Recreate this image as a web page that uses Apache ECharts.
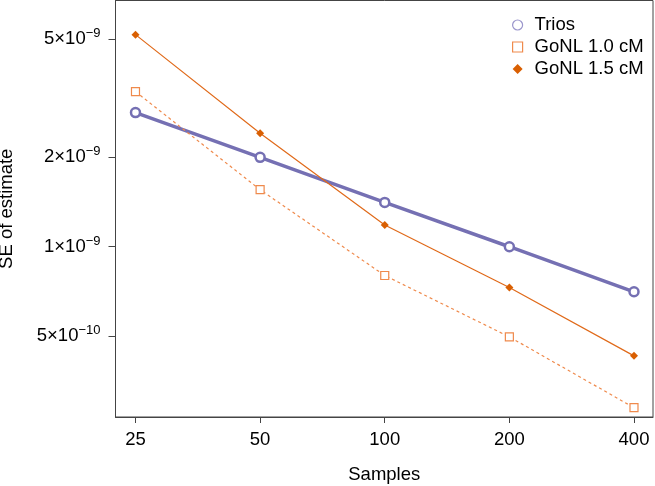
<!DOCTYPE html>
<html><head><meta charset="utf-8">
<script src="https://cdn.jsdelivr.net/npm/echarts@6/dist/echarts.min.js"></script>
<style>html,body{margin:0;padding:0;background:#fff}#c{width:655px;height:486px}</style>
</head><body><div id="c"></div>
<script>
const samples = [25, 50, 100, 200, 400];
const trios = [2.83e-9, 2.0e-9, 1.41e-9, 1.0e-9, 0.705e-9];
const gonl10 = [3.33e-9, 1.556e-9, 0.80e-9, 0.497e-9, 0.287e-9];
const gonl15 = [5.18e-9, 2.41e-9, 1.183e-9, 0.729e-9, 0.429e-9];
const xTicks = [25, 50, 100, 200, 400];
const yTicks = [5e-10, 1e-9, 2e-9, 5e-9];
const yTickMant = ['5', '1', '2', '5'];
const yTickExp = ['−10', '−9', '−9', '−9'];

const FONT = 'Liberation Sans, Arial, Helvetica, sans-serif';
const FS = 18.5;
const pairs = arr => samples.map((s, i) => [s, arr[i]]);
const chart = echarts.init(document.getElementById('c'));
chart.setOption({
  animation: false,
  textStyle: {fontFamily: FONT},
  grid: {left: 115.5, right: 2, top: 0.5, bottom: 69, show: true, borderColor: '#444', borderWidth: 1,
         backgroundColor: 'transparent', outerBoundsMode: 'none', containLabel: false},
  legend: {
    orient: 'vertical', left: 507, top: 9, itemGap: 0, itemWidth: 10, itemHeight: 10,
    textStyle: {fontSize: FS, lineHeight: 22, color: '#000', fontFamily: FONT, padding: [0, 0, 0, 7]},
    data: [
      {name: 'Trios', icon: 'circle', itemStyle: {color: '#fff', borderColor: '#9b96cc', borderWidth: 1.2}},
      {name: 'GoNL 1.0 cM', icon: 'rect', itemStyle: {color: '#fff', borderColor: '#ef8a4c', borderWidth: 1.2}},
      {name: 'GoNL 1.5 cM', icon: 'diamond', itemStyle: {color: '#d95f02'}}
    ]
  },
  xAxis: {
    type: 'log', logBase: 2, min: 22.37, max: 444.6,
    name: 'Samples', nameLocation: 'middle', nameGap: 48,
    nameTextStyle: {fontSize: FS, color: '#000', fontFamily: FONT},
    axisLine: {show: true, lineStyle: {color: '#444'}},
    axisTick: {show: true, length: 6, lineStyle: {color: '#444'}, customValues: xTicks},
    axisLabel: {fontSize: FS, color: '#000', margin: 13, customValues: xTicks, fontFamily: FONT},
    splitLine: {show: false}, minorTick: {show: false}
  },
  yAxis: {
    type: 'log', min: 2.67e-10, max: 6.75e-9,
    name: 'SE of estimate', nameLocation: 'middle', nameGap: 99,
    nameTextStyle: {fontSize: FS, color: '#000', fontFamily: FONT},
    axisLine: {show: true, lineStyle: {color: '#444'}},
    axisTick: {show: true, length: 7, lineStyle: {color: '#444'}, customValues: yTicks},
    axisLabel: {
      margin: 15, customValues: yTicks, color: '#000',
      formatter: v => {
        let idx = 0, best = Infinity;
        yTicks.forEach((t, i) => { const d = Math.abs(Math.log(t) - Math.log(v)); if (d < best) { best = d; idx = i; } });
        return '{m|' + yTickMant[idx] + '×10}{e|' + yTickExp[idx] + '}';
      },
      rich: {
        m: {fontSize: FS, lineHeight: 24, color: '#000', fontFamily: FONT},
        e: {fontSize: 13, lineHeight: 13, verticalAlign: 'top', color: '#000', fontFamily: FONT}
      }
    },
    splitLine: {show: false}, minorTick: {show: false}
  },
  series: [
    {name: 'Trios', type: 'line', data: pairs(trios), symbol: 'circle', symbolSize: 9,
     lineStyle: {color: '#7570b3', width: 3.5}, itemStyle: {color: '#fff', borderColor: '#7570b3', borderWidth: 2.5}, z: 3},
    {name: 'GoNL 1.0 cM', type: 'line', data: pairs(gonl10), symbol: 'rect', symbolSize: 8,
     lineStyle: {color: '#ef8a4c', width: 1.2, type: [3, 3]}, itemStyle: {color: '#fff', borderColor: '#ef8a4c', borderWidth: 1.2}},
    {name: 'GoNL 1.5 cM', type: 'line', data: pairs(gonl15), symbol: 'diamond', symbolSize: 8,
     lineStyle: {color: '#e06a1a', width: 1.2}, itemStyle: {color: '#d95f02', borderWidth: 0}}
  ]
});
</script></body></html>
